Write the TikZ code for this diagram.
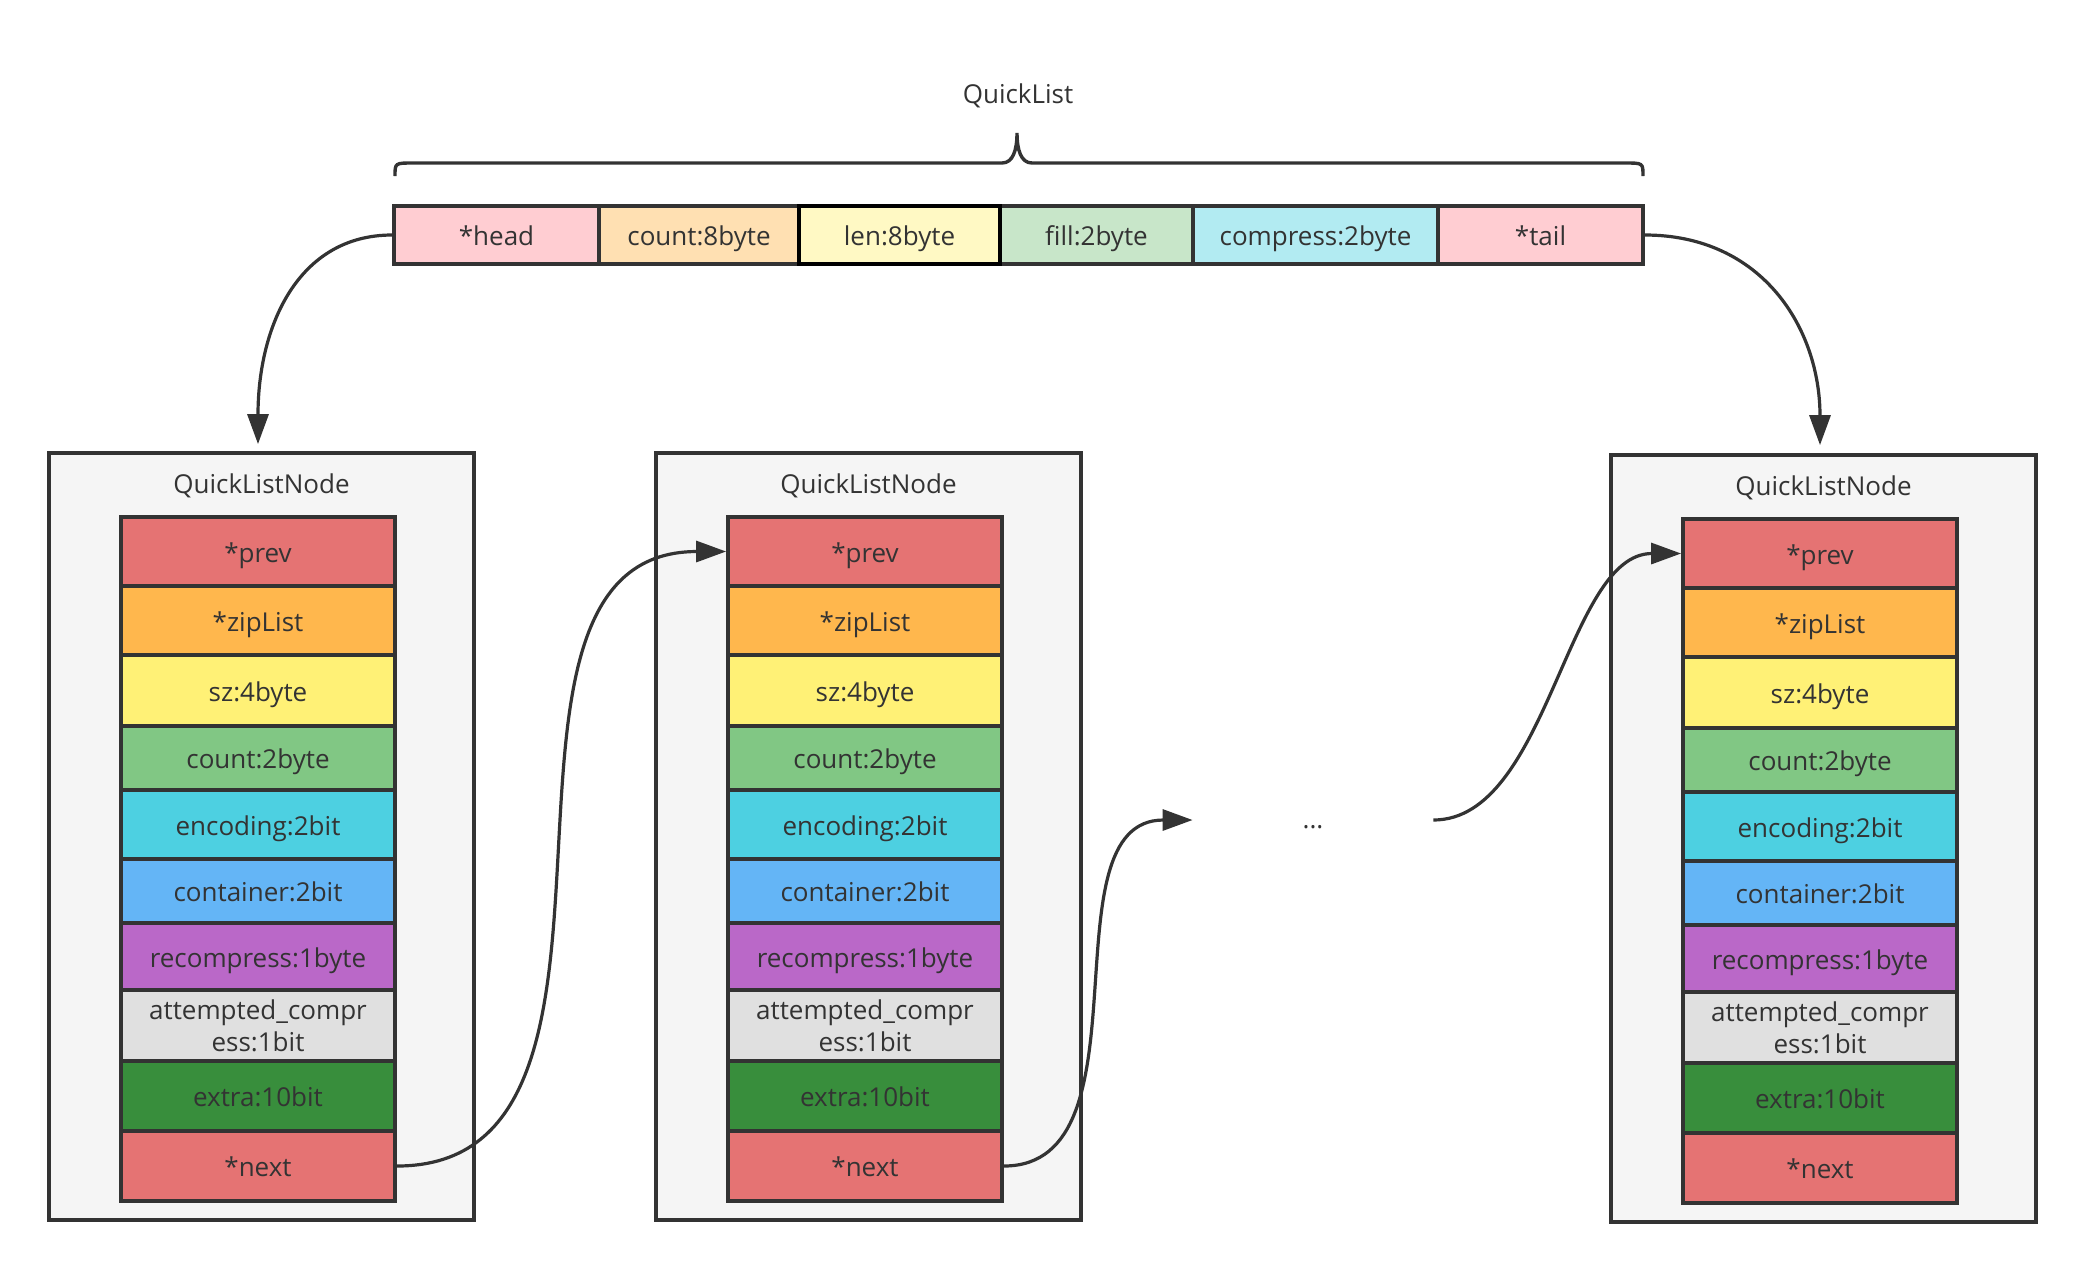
\documentclass[tikz,border=0pt]{standalone}
\usepackage{fontspec}
\setmainfont{Open Sans}
\usetikzlibrary{arrows.meta}
\definecolor{stroke}{HTML}{333333}
\definecolor{boxfill}{HTML}{F5F5F5}
\definecolor{cpink}{HTML}{FFCDD2}
\definecolor{corange}{HTML}{FFE0B2}
\definecolor{cyellow}{HTML}{FFF9C4}
\definecolor{cgreen}{HTML}{C8E6C9}
\definecolor{ccyan}{HTML}{B2EBF2}
\definecolor{cprev}{HTML}{E57373}
\definecolor{czip}{HTML}{FFB74D}
\definecolor{csz}{HTML}{FFF176}
\definecolor{ccount}{HTML}{81C784}
\definecolor{cenc}{HTML}{4DD0E1}
\definecolor{ccont}{HTML}{64B5F6}
\definecolor{crecomp}{HTML}{BA68C8}
\definecolor{catt}{HTML}{E0E0E0}
\definecolor{cextra}{HTML}{388E3C}
\newcommand\qlfont{\fontsize{13pt}{16pt}\selectfont}
\tikzset{
  cell/.style={draw=stroke, line width=1.9pt, inner sep=0pt, minimum width=137pt,
    text=stroke, font=\qlfont, align=center},
  onerow/.style={text height=10.5pt, text depth=0pt},
  barcell/.style={draw=stroke, line width=1.9pt, inner sep=0pt, minimum height=29pt,
    text=stroke, font=\qlfont, text height=10.6pt, text depth=0pt},
  outerbox/.style={draw=stroke, fill=boxfill, line width=1.9pt, inner sep=0pt,
    minimum width=212.5pt, minimum height=383.5pt},
  plainlabel/.style={text=stroke, font=\qlfont, inner sep=0pt},
  link/.style={draw=stroke, line width=1.6pt, -{Triangle[length=15pt,width=10.5pt]}},
  bracepath/.style={draw=stroke, line width=1.7pt}
}
\newcommand\qlrow[8]{%
  \pgfmathsetmacro\qlh{(#5-#4)*0.5}%
  \node[cell, #8, fill=#6, minimum height=\qlh pt] (#1) at ({#2+209},{#3+(#4+#5)/2}) {#7};}
\newcommand\qlbox[3]{%
  \node[outerbox] (#1box) at ({#2+212.5},{#3+383.5}) {};
  \node[plainlabel] (#1title) at ({#2+212.5},{#3+33}) {QuickListNode};
  \qlrow{#1prev}{#2}{#3}{64}{133}{cprev}{*prev}{onerow}
  \qlrow{#1zip}{#2}{#3}{133}{202}{czip}{*zipList}{onerow}
  \qlrow{#1sz}{#2}{#3}{202}{273}{csz}{sz:4byte}{onerow}
  \qlrow{#1count}{#2}{#3}{273}{337}{ccount}{count:2byte}{onerow}
  \qlrow{#1enc}{#2}{#3}{337}{406}{cenc}{encoding:2bit}{onerow}
  \qlrow{#1cont}{#2}{#3}{406}{470}{ccont}{container:2bit}{onerow}
  \qlrow{#1recomp}{#2}{#3}{470}{537}{crecomp}{recompress:1byte}{onerow}
  \qlrow{#1att}{#2}{#3}{537}{608}{catt}{attempted\_compr\\ess:1bit}{}
  \qlrow{#1extra}{#2}{#3}{608}{678}{cextra}{extra:10bit}{onerow}
  \qlrow{#1next}{#2}{#3}{678}{748}{cprev}{*next}{onerow}
}
\begin{document}
\begin{tikzpicture}[x=0.5pt, y=-0.5pt]
\useasboundingbox (0,0) rectangle (2087,1271);
% title and brace
\node[plainlabel] (title) at (1018,96) {QuickList};
\draw[bracepath] (395,176) .. controls (395,163) .. (413,163) -- (1002,163)
  .. controls (1013,163) and (1017,150) .. (1017,133)
  .. controls (1017,150) and (1021,163) .. (1032,163) -- (1625,163)
  .. controls (1643,163) .. (1643,176);
% top bar
\node[barcell, fill=cpink, minimum width=102.5pt] (head) at (496.5,235) {*head};
\node[barcell, fill=corange, minimum width=100pt] (count) at (699,235) {count:8byte};
\node[barcell, fill=cgreen, minimum width=96.5pt] (fill) at (1096.5,235) {fill:2byte};
\node[barcell, fill=ccyan, minimum width=122.5pt] (compress) at (1315.5,235) {compress:2byte};
\node[barcell, fill=cpink, minimum width=102.5pt] (tail) at (1540.5,235) {*tail};
\node[barcell, fill=cyellow, draw=black, line width=2.3pt, minimum width=100.5pt] (len) at (899.5,235) {len:8byte};
% list nodes
\qlbox{n1}{49}{453}
\qlbox{n2}{656}{453}
\qlbox{n3}{1611}{455}
\node[plainlabel, minimum width=120pt, text height=10pt, text depth=2pt] (dots) at (1313,820) {...};
% connectors
\draw[link, shorten >=3.5pt] (head.west) .. controls +(-94,0) and +(0,-125) .. (n1prev.north |- n1box.north);
\draw[link, shorten >=4pt] (tail.east) .. controls +(117,0) and +(0,-125) .. (n3prev.north |- n3box.north);
\draw[link] (n1next.east) .. controls +(281,0) and +(-281,0) .. (n2prev.west);
\draw[link] (n2next.east) .. controls +(150,0) and +(-150,0) .. (dots.west);
\draw[link] (dots.east) .. controls +(115,0) and +(-115,0) .. (n3prev.west);
\end{tikzpicture}
\end{document}
